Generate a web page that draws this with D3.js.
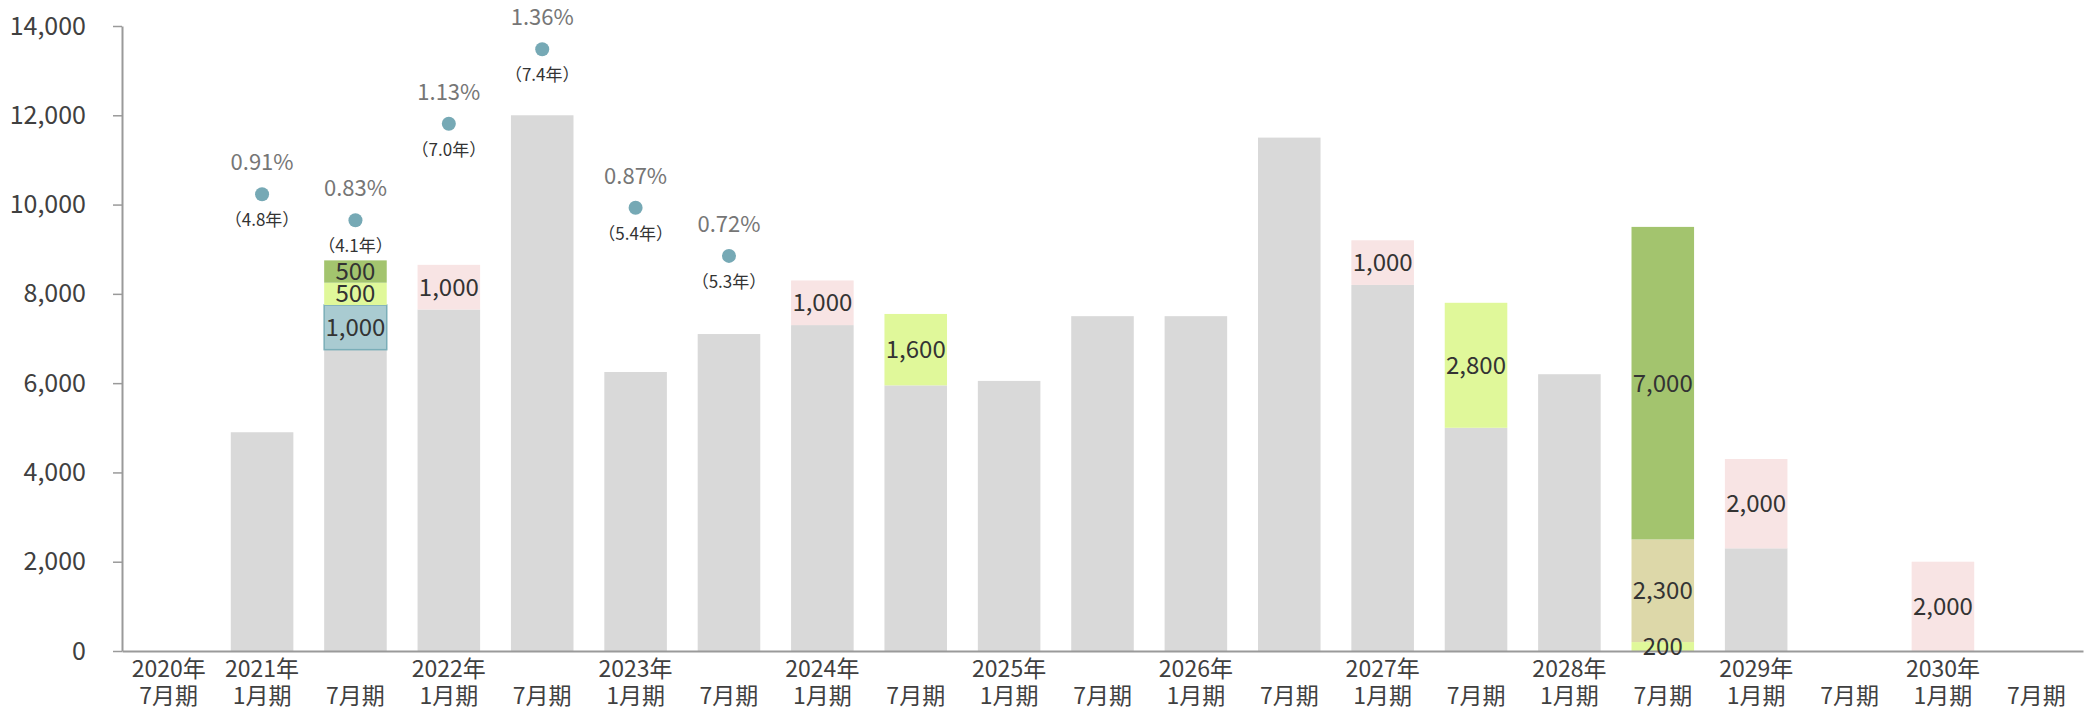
<!DOCTYPE html>
<html>
<head>
<meta charset="utf-8">
<script src="https://cdn.jsdelivr.net/npm/d3@7"></script>
<style>
  body { margin: 0; background: #fff; }
  #container text { font-family: "Noto Sans CJK JP", "Noto Sans", sans-serif; }
  .axis .domain { stroke: #9a9a9a; stroke-width: 2; }
  .axis .tick line { stroke: #9a9a9a; stroke-width: 1.5; }
  .y-axis text { fill: #404040; font-size: 25px; }
  .x-label { fill: #404040; font-size: 23px; }
  .seg-label { fill: #333; font-size: 24px; }
  .pct-label { fill: #767676; font-size: 22px; }
  .yr-label { fill: #333; font-size: 17px; }
</style>
</head>
<body>
<div id="container"></div>
<script>
// periods (x categories) and the two lines of each tick label
var periods = ["2020-07", "2021-01", "2021-07", "2022-01", "2022-07", "2023-01", "2023-07",
               "2024-01", "2024-07", "2025-01", "2025-07", "2026-01", "2026-07", "2027-01",
               "2027-07", "2028-01", "2028-07", "2029-01", "2029-07", "2030-01", "2030-07"];
var yearLabels = ["2020年", "2021年", "", "2022年", "", "2023年", "", "2024年", "", "2025年", "",
                  "2026年", "", "2027年", "", "2028年", "", "2029年", "", "2030年", ""];
var monthLabels = ["7月期", "1月期", "7月期", "1月期", "7月期", "1月期", "7月期", "1月期", "7月期",
                   "1月期", "7月期", "1月期", "7月期", "1月期", "7月期", "1月期", "7月期", "1月期",
                   "7月期", "1月期", "7月期"];

// stacked series, bottom to top
var baseVals   = [0, 4900, 6750, 7650, 12000, 6250, 7100, 7300, 5950, 6050, 7500, 7500, 11500, 8200, 5000, 6200, 0, 2300, 0, 0, 0];
var tealVals   = [0, 0, 1000, 0, 0, 0, 0, 0, 0, 0, 0, 0, 0, 0, 0, 0, 0, 0, 0, 0, 0];
var limeVals   = [0, 0, 500, 0, 0, 0, 0, 0, 1600, 0, 0, 0, 0, 0, 2800, 0, 200, 0, 0, 0, 0];
var khakiVals  = [0, 0, 0, 0, 0, 0, 0, 0, 0, 0, 0, 0, 0, 0, 0, 0, 2300, 0, 0, 0, 0];
var greenVals  = [0, 0, 500, 0, 0, 0, 0, 0, 0, 0, 0, 0, 0, 0, 0, 0, 7000, 0, 0, 0, 0];
var pinkVals   = [0, 0, 0, 1000, 0, 0, 0, 1000, 0, 0, 0, 0, 0, 1000, 0, 0, 0, 2000, 0, 2000, 0];

// dot series (rate and years) for the first periods
var dotPeriods = ["2021-01", "2021-07", "2022-01", "2022-07", "2023-01", "2023-07"];
var dotVals    = [10230, 9650, 11810, 13480, 9930, 8850];
var rateLabels = ["0.91%", "0.83%", "1.13%", "1.36%", "0.87%", "0.72%"];
var yearsLabels = ["4.8", "4.1", "7.0", "7.4", "5.4", "5.3"];

var yTicks = [0, 2000, 4000, 6000, 8000, 10000, 12000, 14000];

var seriesKeys = ["base", "teal", "lime", "khaki", "green", "pink"];
var seriesColors = {base: "#d9d9d9", teal: "#a9cbd1", lime: "#e0f89a", khaki: "#ddd8a9", green: "#a3c46e", pink: "#f8e4e4"};

function createChart() {
  var chartWidth = 2087, chartHeight = 710;

  var chart = d3.select("#container").
  append("svg").
  attr("width", chartWidth).
  attr("height", chartHeight);

  var x = d3.scaleBand().
  domain(periods).
  range([122, 2083]).
  paddingInner(0.33).
  paddingOuter(0.165);

  var y = d3.scaleLinear().
  domain([0, 14000]).
  range([651, 26]);

  // table for the stack
  var rows = periods.map(function (p, i) {
    return {period: p, base: baseVals[i], teal: tealVals[i], lime: limeVals[i],
            khaki: khakiVals[i], green: greenVals[i], pink: pinkVals[i]};
  });
  var stacked = d3.stack().keys(seriesKeys)(rows);

  var layers = chart.append("g").
  selectAll("g").
  data(stacked).
  enter().
  append("g").
  attr("fill", function (d) {return seriesColors[d.key];}).
  attr("stroke", function (d) {return d.key == "teal" ? "#7aaeb8" : "none";}).
  attr("stroke-width", 1.5);

  layers.selectAll("rect").
  data(function (d) {return d.filter(function (s) {return s[1] - s[0] > 0;});}).
  enter().
  append("rect").
  attr("x", function (d) {return x(d.data.period);}).
  attr("width", x.bandwidth()).
  attr("y", function (d) {return y(d[1]);}).
  attr("height", function (d) {return y(d[0]) - y(d[1]);});

  // y axis
  chart.append("g").
  attr("class", "axis y-axis").
  attr("transform", "translate(122,0)").
  call(d3.axisLeft(y).tickValues(yTicks).tickSize(9).tickSizeOuter(0).tickPadding(27).tickFormat(d3.format(","))).
  call(function (g) {g.select(".domain").attr("stroke-width", 1.5);});

  // x axis, two-line labels
  var xAxis = chart.append("g").
  attr("class", "axis x-axis").
  attr("transform", "translate(0,651)").
  call(d3.axisBottom(x).tickSize(0).tickSizeOuter(0).tickFormat(""));
  xAxis.selectAll(".tick").each(function (d, i) {
    var t = d3.select(this).append("text").
    attr("class", "x-label").
    attr("text-anchor", "middle");
    t.append("tspan").attr("x", 0).attr("y", 26).text(yearLabels[i]);
    t.append("tspan").attr("x", 0).attr("y", 53).text(monthLabels[i]);
  });

  // segment value labels (not for base)
  stacked.forEach(function (layer) {
    if (layer.key == "base") return;
    chart.append("g").
    selectAll("text").
    data(layer.filter(function (s) {return s[1] - s[0] > 0;})).
    enter().
    append("text").
    attr("class", "seg-label").
    attr("text-anchor", "middle").
    attr("dy", "0.36em").
    attr("x", function (d) {return x(d.data.period) + x.bandwidth() / 2;}).
    attr("y", function (d) {return y((d[0] + d[1]) / 2);}).
    text(function (d) {return d3.format(",")(d[1] - d[0]);});
  });

  // dots with rate and years
  var dots = chart.append("g").
  selectAll("g").
  data(dotVals).
  enter().
  append("g").
  attr("transform", function (d, i) {
    return "translate(" + (x(dotPeriods[i]) + x.bandwidth() / 2) + "," + y(d) + ")";
  });
  dots.append("circle").
  attr("r", 7).
  attr("fill", "#76a9b5");
  dots.append("text").
  attr("class", "pct-label").
  attr("text-anchor", "middle").
  attr("y", -32).
  attr("dy", "0.36em").
  text(function (d, i) {return rateLabels[i];});
  dots.append("text").
  attr("class", "yr-label").
  attr("text-anchor", "middle").
  attr("y", 26).
  attr("dy", "0.36em").
  text(function (d, i) {return "（" + yearsLabels[i] + "年）";});
}

window.onload = function () {
  createChart();
};
</script>
</body>
</html>
